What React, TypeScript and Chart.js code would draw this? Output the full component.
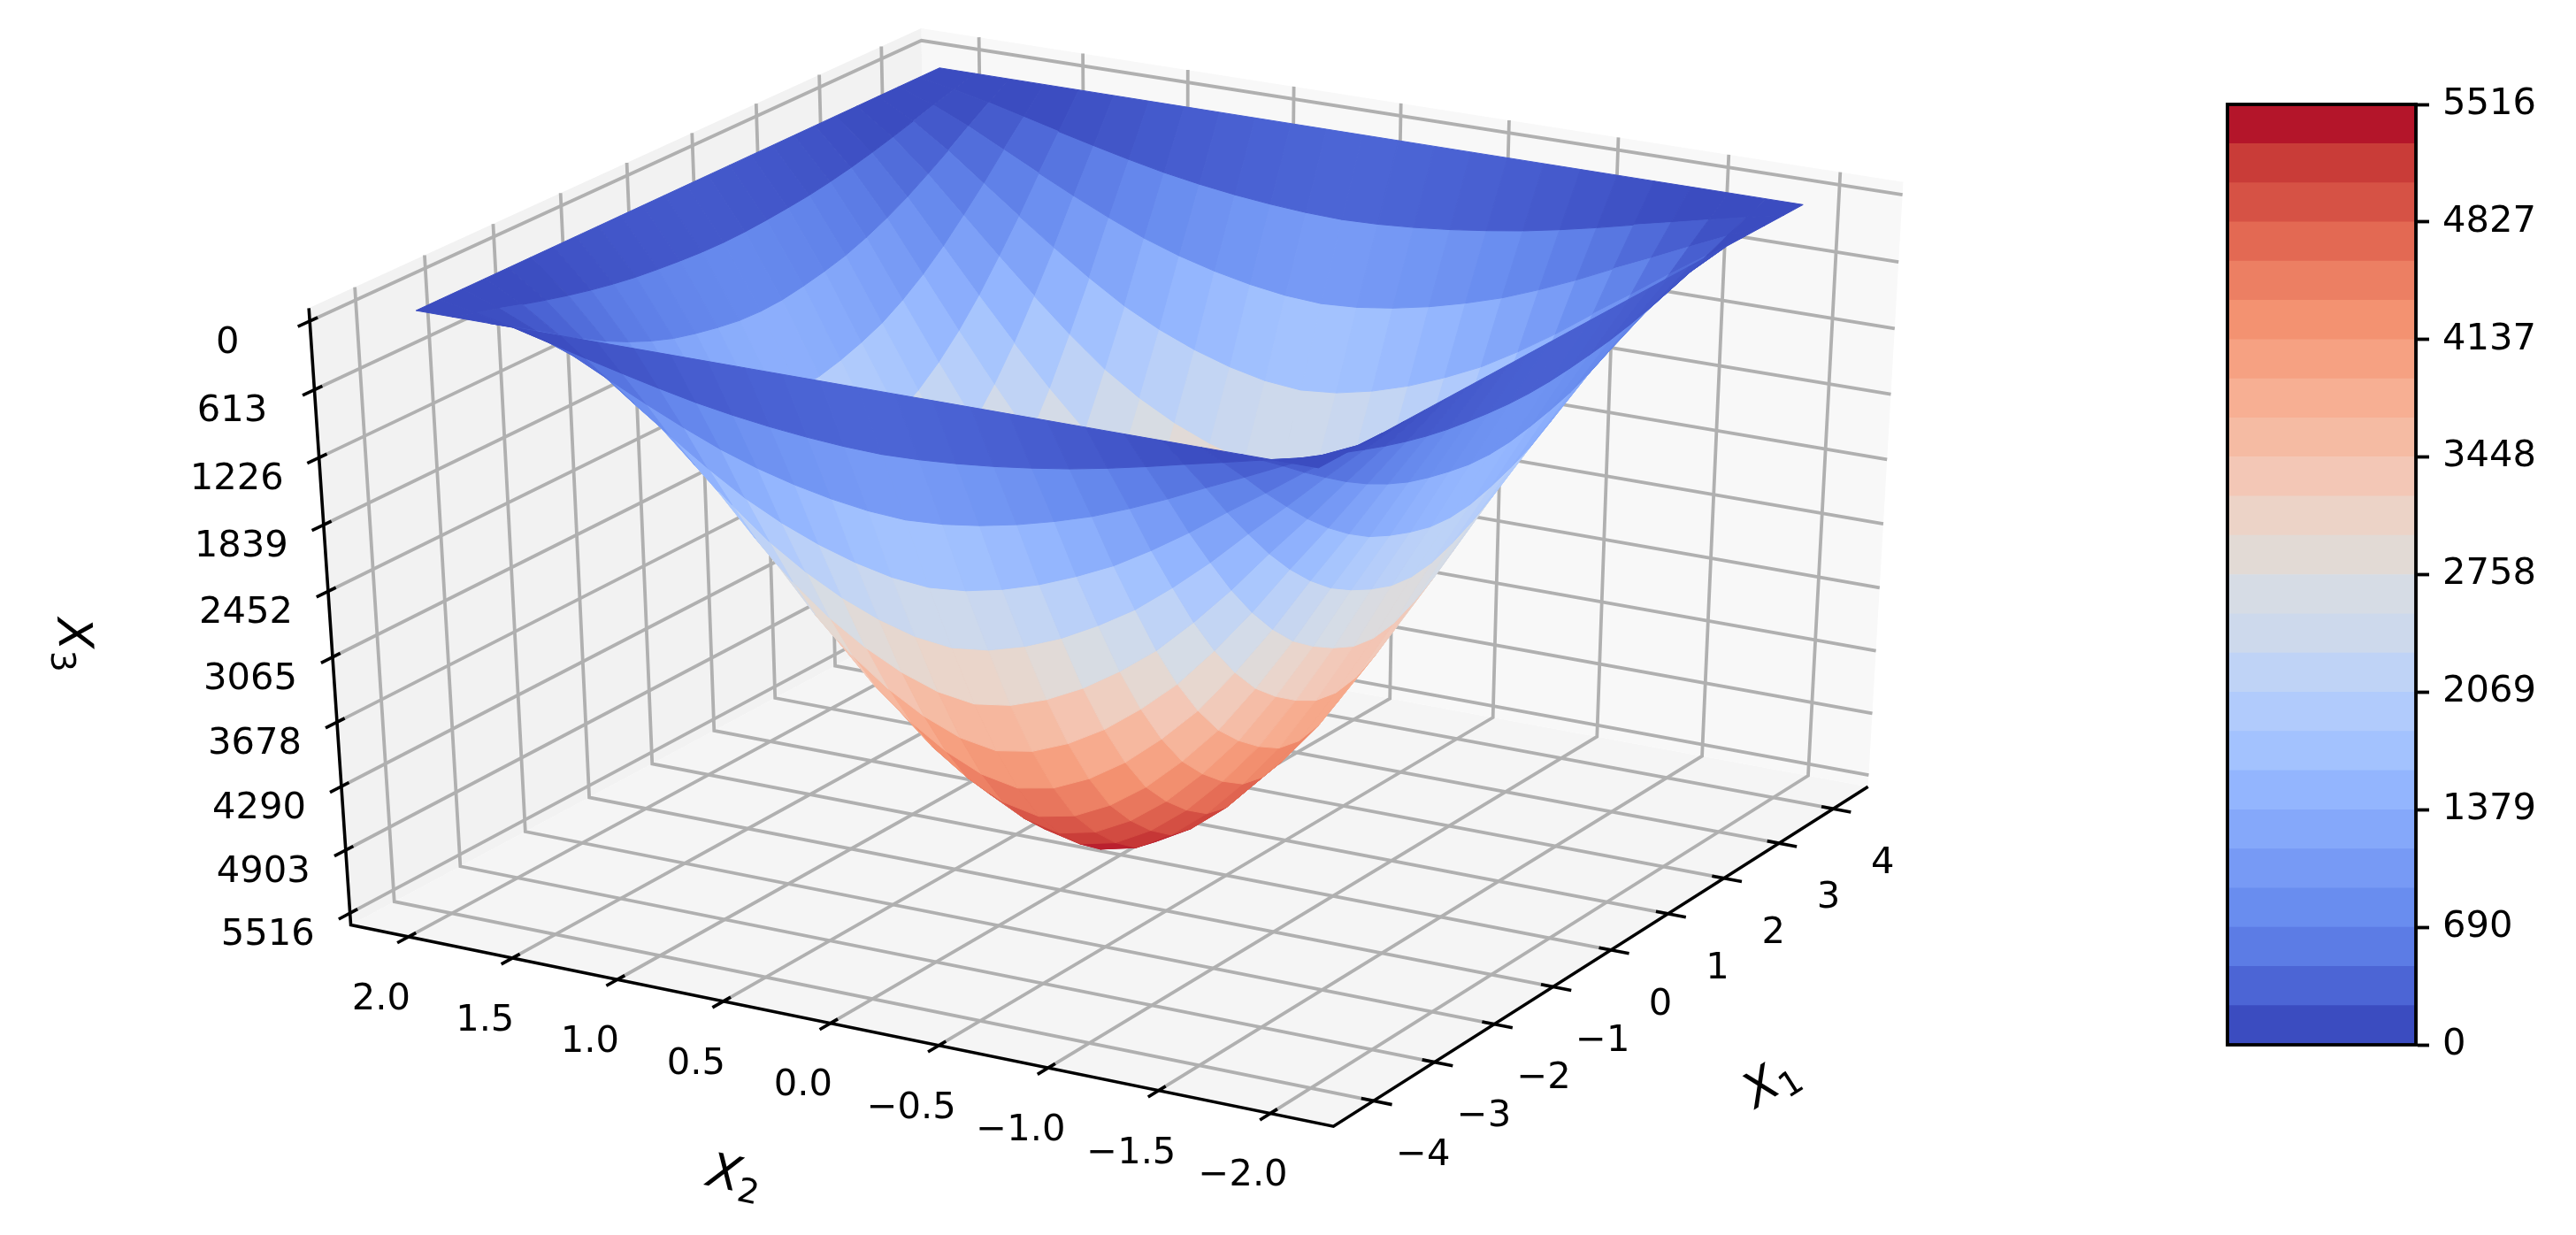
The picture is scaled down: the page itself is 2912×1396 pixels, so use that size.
import React, { useEffect, useRef } from "react";
import { Chart, registerables } from "chart.js";
Chart.register(...registerables);

const x1Grid = [-4,-3.667,-3.333,-3,-2.667,-2.333,-2,-1.667,-1.333,-1,-0.667,-0.333,0,0.333,0.667,1,1.333,1.667,2,2.333,2.667,3,3.333,3.667,4];
const x2Grid = [2,1.833,1.667,1.5,1.333,1.167,1,0.833,0.667,0.5,0.333,0.167,0,-0.167,-0.333,-0.5,-0.667,-0.833,-1,-1.167,-1.333,-1.5,-1.667,-1.833,-2];
const surfaceZ = [
[0,0,0,0,0,0,0,0,0,0,0,0,0,0,0,0,0,0,0,0,0,0,0,0,0],
[0,59,131,214,297,376,452,521,576,621,655,679,690,679,655,621,576,524,459,386,307,231,152,76,0],
[0,117,262,428,593,752,903,1041,1152,1241,1310,1358,1379,1358,1310,1241,1152,1048,917,772,614,462,304,152,0],
[0,178,398,650,901,1142,1373,1583,1750,1886,1991,2065,2096,2065,1991,1886,1750,1593,1394,1174,933,702,461,231,0],
[0,235,524,855,1186,1503,1807,2083,2303,2482,2620,2717,2758,2717,2620,2482,2303,2096,1834,1545,1228,924,607,304,0],
[0,288,645,1052,1459,1849,2222,2561,2833,3053,3223,3341,3392,3341,3223,3053,2833,2578,2256,1900,1510,1137,747,373,0],
[0,335,749,1223,1696,2149,2583,2978,3293,3549,3747,3885,3944,3885,3747,3549,3293,2997,2623,2209,1755,1321,868,434,0],
[0,375,838,1368,1898,2405,2890,3332,3685,3971,4192,4346,4413,4346,4192,3971,3685,3354,2934,2471,1964,1478,971,486,0],
[0,408,912,1488,2064,2615,3143,3624,4007,4319,4559,4727,4799,4727,4559,4319,4007,3647,3191,2687,2136,1608,1056,528,0],
[0,431,964,1573,2182,2766,3324,3832,4238,4567,4821,4998,5075,4998,4821,4567,4238,3857,3375,2842,2259,1700,1117,558,0],
[0,450,1006,1642,2277,2886,3468,3998,4422,4765,5030,5216,5295,5216,5030,4765,4422,4024,3521,2965,2357,1774,1165,583,0],
[0,464,1038,1693,2348,2976,3577,4123,4560,4914,5188,5379,5461,5379,5188,4914,4560,4150,3631,3058,2430,1830,1202,601,0],
[0,469,1048,1710,2372,3006,3613,4165,4606,4964,5240,5433,5516,5433,5240,4964,4606,4192,3668,3089,2455,1848,1214,607,0],
[0,464,1038,1693,2348,2976,3577,4123,4560,4914,5188,5379,5461,5379,5188,4914,4560,4150,3631,3058,2430,1830,1202,601,0],
[0,450,1006,1642,2277,2886,3468,3998,4422,4765,5030,5216,5295,5216,5030,4765,4422,4024,3521,2965,2357,1774,1165,583,0],
[0,431,964,1573,2182,2766,3324,3832,4238,4567,4821,4998,5075,4998,4821,4567,4238,3857,3375,2842,2259,1700,1117,558,0],
[0,408,912,1488,2064,2615,3143,3624,4007,4319,4559,4727,4799,4727,4559,4319,4007,3647,3191,2687,2136,1608,1056,528,0],
[0,375,838,1368,1898,2405,2890,3332,3685,3971,4192,4346,4413,4346,4192,3971,3685,3354,2934,2471,1964,1478,971,486,0],
[0,335,749,1223,1696,2149,2583,2978,3293,3549,3747,3885,3944,3885,3747,3549,3293,2997,2623,2209,1755,1321,868,434,0],
[0,288,645,1052,1459,1849,2222,2561,2833,3053,3223,3341,3392,3341,3223,3053,2833,2578,2256,1900,1510,1137,747,373,0],
[0,235,524,855,1186,1503,1807,2083,2303,2482,2620,2717,2758,2717,2620,2482,2303,2096,1834,1545,1228,924,607,304,0],
[0,178,398,650,901,1142,1373,1583,1750,1886,1991,2065,2096,2065,1991,1886,1750,1593,1394,1174,933,702,461,231,0],
[0,117,262,428,593,752,903,1041,1152,1241,1310,1358,1379,1358,1310,1241,1152,1048,917,772,614,462,304,152,0],
[0,59,131,214,297,376,452,521,576,621,655,679,690,679,655,621,576,524,459,386,307,231,152,76,0],
[0,0,0,0,0,0,0,0,0,0,0,0,0,0,0,0,0,0,0,0,0,0,0,0,0],
];

const x1Ticks = [-4,-3,-2,-1,0,1,2,3,4];
const x2Ticks = [2,1.5,1,0.5,0,-0.5,-1,-1.5,-2];
const x2TickText = ["2.0","1.5","1.0","0.5","0.0","\u22120.5","\u22121.0","\u22121.5","\u22122.0"];
const zTicks = [0,613,1226,1839,2452,3065,3678,4290,4903,5516];
const colorbarTicks = [0,690,1379,2069,2758,3448,4137,4827,5516];
const colorbarEdges = [0,230,460,690,919,1149,1379,1609,1839,2069,2298,2528,2758,2988,3218,3448,3677,3907,4137,4367,4597,4827,5056,5286,5516];
const bandColors = ["#3b4cc0","#4c65d5","#5c7ce5","#698def","#779af5","#85a8fa","#93b5fe","#a3c2fe","#b1cbfc","#bfd3f6","#cdd9ec","#d6dce5","#e2dad5","#ecd3c7","#f3c7b6","#f5bba3","#f7af93","#f6a182","#f39271","#ec7f63","#e36953","#d65245","#c93c38","#b4152a"];

const X1_LIM = 4.65, X2_LIM = 2.28, Z_TOP = -115, Z_BOTTOM = 5631;

// camera calibration: where known places of the 3D box fall on the page
const calibration = [
  [-X1_LIM,X2_LIM,Z_BOTTOM,396,1046],[-X1_LIM,X2_LIM,Z_TOP,351,345],[-X1_LIM,-X2_LIM,Z_BOTTOM,1508,1273],
  [X1_LIM,-X2_LIM,Z_BOTTOM,2111,888],[X1_LIM,-X2_LIM,Z_TOP,2151.5,206],[X1_LIM,X2_LIM,Z_TOP,1040,32],
  [-4,2,0,469,352.5],[-4,-2,0,1488,530],[4,-2,0,2040,231],[4,2,0,1067,77.5],
  [-X1_LIM,0,Z_BOTTOM,941,1157],[-X1_LIM,-1,Z_BOTTOM,1185,1207],[-X1_LIM,2,Z_BOTTOM,462,1060],
  [-4,-X2_LIM,Z_BOTTOM,1555,1247],[0,-X2_LIM,Z_BOTTOM,1820,1075],
  [-X1_LIM,X2_LIM,0,352.7,360],[-X1_LIM,X2_LIM,5516,397,1035],
];

const nx = (a:number)=>a/X1_LIM, ny=(b:number)=>b/X2_LIM, nz=(c:number)=>(c-2758)/2873;

function solve(A:number[][], b:number[]) {
  const n=b.length; const M=A.map((r,i)=>[...r,b[i]]);
  for(let i=0;i<n;i++){
    let p=i; for(let r=i+1;r<n;r++) if(Math.abs(M[r][i])>Math.abs(M[p][i])) p=r;
    [M[i],M[p]]=[M[p],M[i]];
    for(let r=0;r<n;r++){ if(r===i) continue; const f=M[r][i]/M[i][i]; for(let c=i;c<=n;c++) M[r][c]-=f*M[i][c]; }
  }
  return M.map((r,i)=>r[n]/r[i]);
}
function fitCamera(){
  const rows:number[][]=[], rhs:number[]=[];
  calibration.forEach(([a,b,c,px,py],k)=>{
    const g=k===5?6:k<10?3:1;
    const X=nx(a),Y=ny(b),Z=nz(c),u=px/1000,v=py/1000;
    rows.push([X,Y,Z,1,0,0,0,0,-u*X,-u*Y,-u*Z].map(e=>e*g)); rhs.push(u*g);
    rows.push([0,0,0,0,X,Y,Z,1,-v*X,-v*Y,-v*Z].map(e=>e*g)); rhs.push(v*g);
  });
  const n=11; const AtA=Array.from({length:n},()=>new Array(n).fill(0)); const Atb=new Array(n).fill(0);
  rows.forEach((r,k)=>{ for(let i=0;i<n;i++){ Atb[i]+=r[i]*rhs[k]; for(let j=0;j<n;j++) AtA[i][j]+=r[i]*r[j]; } });
  return solve(AtA,Atb);
}
const H = fitCamera();
function project(a:number,b:number,c:number){
  const X=nx(a),Y=ny(b),Z=nz(c);
  const w=H[8]*X+H[9]*Y+H[10]*Z+1;
  return {x:1000*(H[0]*X+H[1]*Y+H[2]*Z+H[3])/w,y:1000*(H[4]*X+H[5]*Y+H[6]*Z+H[7])/w,w};
}

function colorAt(t:number){
  const n=bandColors.length-1, p=Math.max(0,Math.min(n,Math.max(0,t)*(n+1)-0.5)), i=Math.min(n-1,Math.floor(p)), f=p-i;
  const rgb=(h:string)=>[1,3,5].map(o=>parseInt(h.slice(o,o+2),16));
  const a=rgb(bandColors[i]), b=rgb(bandColors[i+1]);
  return `rgb(${a.map((v,k)=>Math.round(v+(b[k]-v)*f)).join(",")})`;
}

const GRID="#b0b0b0", GW=3.8, AW=3.6;
function lineSet(pts:number[][],color:string,width:number,order:number){
  return {data:pts.map(p=>{const q=project(p[0],p[1],p[2]);return {x:q.x,y:q.y};}),showLine:true,borderColor:color,borderWidth:width,pointRadius:0,fill:false,order,tension:0,borderCapStyle:"butt"};
}
function paneSet(pts:number[][],color:string){
  return {data:[...pts,pts[0]].map(p=>{const q=project(p[0],p[1],p[2]);return {x:q.x,y:q.y};}),showLine:true,borderColor:color,backgroundColor:color,borderWidth:0,pointRadius:0,fill:"shape",order:5000,tension:0};
}
function buildDatasets(){
  const out:any[]=[];
  out.push(paneSet([[-X1_LIM,X2_LIM,Z_TOP],[X1_LIM,X2_LIM,Z_TOP],[X1_LIM,X2_LIM,Z_BOTTOM],[-X1_LIM,X2_LIM,Z_BOTTOM]],"#f2f2f2"));
  out.push(paneSet([[X1_LIM,X2_LIM,Z_TOP],[X1_LIM,-X2_LIM,Z_TOP],[X1_LIM,-X2_LIM,Z_BOTTOM],[X1_LIM,X2_LIM,Z_BOTTOM]],"#f8f8f8"));
  out.push(paneSet([[-X1_LIM,X2_LIM,Z_BOTTOM],[X1_LIM,X2_LIM,Z_BOTTOM],[X1_LIM,-X2_LIM,Z_BOTTOM],[-X1_LIM,-X2_LIM,Z_BOTTOM]],"#f5f5f5"));
  for(const t of x1Ticks){
    out.push(lineSet([[t,-X2_LIM,Z_BOTTOM],[t,X2_LIM,Z_BOTTOM],[t,X2_LIM,Z_TOP]],GRID,GW,4000));
    const d=X2_LIM*2;
    out.push(lineSet([[t,-X2_LIM-0.018*d,Z_BOTTOM],[t,-X2_LIM+0.012*d,Z_BOTTOM]],"#000",AW,3000));
  }
  for(const t of x2Ticks){
    out.push(lineSet([[-X1_LIM,t,Z_BOTTOM],[X1_LIM,t,Z_BOTTOM],[X1_LIM,t,Z_TOP]],GRID,GW,4000));
    const d=X1_LIM*2;
    out.push(lineSet([[-X1_LIM-0.018*d,t,Z_BOTTOM],[-X1_LIM+0.012*d,t,Z_BOTTOM]],"#000",AW,3000));
  }
  for(const t of zTicks){
    out.push(lineSet([[-X1_LIM,X2_LIM,t],[X1_LIM,X2_LIM,t],[X1_LIM,-X2_LIM,t]],GRID,GW,4000));
    const d=X1_LIM*2;
    out.push(lineSet([[-X1_LIM-0.018*d,X2_LIM,t],[-X1_LIM+0.012*d,X2_LIM,t]],"#000",AW,3000));
  }
  out.push(lineSet([[-X1_LIM,X2_LIM,Z_TOP],[-X1_LIM,X2_LIM,Z_BOTTOM],[-X1_LIM,-X2_LIM,Z_BOTTOM],[X1_LIM,-X2_LIM,Z_BOTTOM]],"#000",AW,3000));
  const cells:any[]=[];
  for(let i=0;i<x1Grid.length-1;i++) for(let j=0;j<x2Grid.length-1;j++){
    const corners=[[i,j],[i+1,j],[i+1,j+1],[i,j+1]].map(([a,b])=>project(x1Grid[a],x2Grid[b],surfaceZ[a][b]));
    const mean=(surfaceZ[i][j]+surfaceZ[i+1][j]+surfaceZ[i+1][j+1]+surfaceZ[i][j+1])/4;
    const depth=corners.reduce((s,c)=>s+c.w,0)/4;
    cells.push({corners,depth,color:colorAt(mean/5516)});
  }
  cells.sort((p,q)=>p.depth-q.depth);
  cells.forEach((c,rank)=>{
    out.push({data:[...c.corners,c.corners[0]].map((q:any)=>({x:q.x,y:q.y})),showLine:true,borderColor:c.color,backgroundColor:c.color,borderWidth:1,pointRadius:0,fill:"shape",order:rank,tension:0});
  });
  return out;
}

const FONT='41.67px "DejaVu Sans"';
function axisLabel(ctx:any,main:string,sub:string,x:number,y:number,rot:number){
  ctx.save(); ctx.translate(x,y); ctx.rotate(rot*Math.PI/180);
  ctx.fillStyle="#000"; ctx.textBaseline="alphabetic"; ctx.textAlign="left";
  ctx.font='italic 54px "DejaVu Sans"'; const w1=ctx.measureText(main).width;
  ctx.font='38px "DejaVu Sans"'; const w2=ctx.measureText(sub).width;
  const start=-(w1+w2)/2;
  ctx.font='italic 54px "DejaVu Sans"'; ctx.fillText(main,start,19);
  ctx.font='38px "DejaVu Sans"'; ctx.fillText(sub,start+w1,29);
  ctx.restore();
}
const textPlugin={id:"texts",afterDraw(chart:any){
  const ctx=chart.ctx, sx=chart.scales.x, sy=chart.scales.y;
  const put=(t:string,a:number,b:number,c:number,dx:number,dy:number)=>{
    const q=project(a,b,c); ctx.fillText(t,sx.getPixelForValue(q.x)+dx,sy.getPixelForValue(q.y)+dy);
  };
  ctx.save(); ctx.font=FONT; ctx.fillStyle="#000"; ctx.textAlign="center"; ctx.textBaseline="middle";
  x1Ticks.forEach(t=>put(String(t).replace("-","\u2212"),t,-X2_LIM,Z_BOTTOM,56,62));
  x2Ticks.forEach((t,i)=>put(x2TickText[i],-X1_LIM,t,Z_BOTTOM,-31,71));
  zTicks.forEach(t=>put(String(t),-X1_LIM,X2_LIM,t,-93,25));
  ctx.restore();
  axisLabel(ctx,"X","1",2000,1221,-32.5);
  axisLabel(ctx,"X","2",831,1327,11.5);
  axisLabel(ctx,"X","3",86,728,86.3);
}};

const frameboxPlugin={id:"framebox",afterDraw(chart:any){
  const {ctx,chartArea:a}=chart; ctx.save(); ctx.strokeStyle="#000"; ctx.lineWidth=3.8;
  ctx.strokeRect(a.left,a.top,a.right-a.left,a.bottom-a.top); ctx.restore();
}};

export default function App(){
  const mainRef=useRef<HTMLCanvasElement>(null);
  const barRef=useRef<HTMLCanvasElement>(null);
  useEffect(()=>{
    const main=new Chart(mainRef.current as any,{
      type:"scatter",
      data:{datasets:buildDatasets()} as any,
      options:{responsive:false,animation:false,clip:false,events:[],
        layout:{padding:0},
        plugins:{legend:{display:false},tooltip:{enabled:false},filler:{propagate:false}},
        scales:{x:{type:"linear",min:0,max:2912,display:false},y:{type:"linear",min:0,max:1396,reverse:true,display:false}},
      } as any,
      plugins:[textPlugin],
    });
    const bar=new Chart(barRef.current as any,{
      type:"bar",
      data:{labels:[""],datasets:bandColors.map((c,i)=>({data:[[colorbarEdges[i],colorbarEdges[i+1]]],backgroundColor:c,borderWidth:0,barPercentage:1,categoryPercentage:1,grouped:false}))} as any,
      options:{responsive:false,animation:false,events:[],
        layout:{padding:{left:18,top:118,bottom:215,right:0}},
        plugins:{legend:{display:false},tooltip:{enabled:false}},
        scales:{
          x:{display:false},
          y:{position:"right",min:0,max:5516,
            afterBuildTicks:(ax:any)=>{ax.ticks=colorbarTicks.map(v=>({value:v}));},
            afterFit:(ax:any)=>{ax.width=181;},
            border:{display:true,color:"#000",width:3.8},
            grid:{drawOnChartArea:false,drawTicks:true,tickLength:15,tickWidth:3.8,tickColor:"#000"},
            ticks:{callback:(v:any)=>String(v),color:"#000",padding:15,autoSkip:false,font:{family:"DejaVu Sans",size:41.67}},
          },
        },
      } as any,
      plugins:[frameboxPlugin],
    });
    return ()=>{main.destroy();bar.destroy();};
  },[]);
  return <div style={{position:"absolute",left:0,top:0,width:2912,height:1396,background:"#fff"}}>
    <canvas ref={mainRef} width={2912} height={1396} style={{position:"absolute",left:0,top:0,display:"block"}}/>
    <canvas ref={barRef} width={412} height={1396} style={{position:"absolute",left:2500,top:0,display:"block"}}/>
  </div>;
}
